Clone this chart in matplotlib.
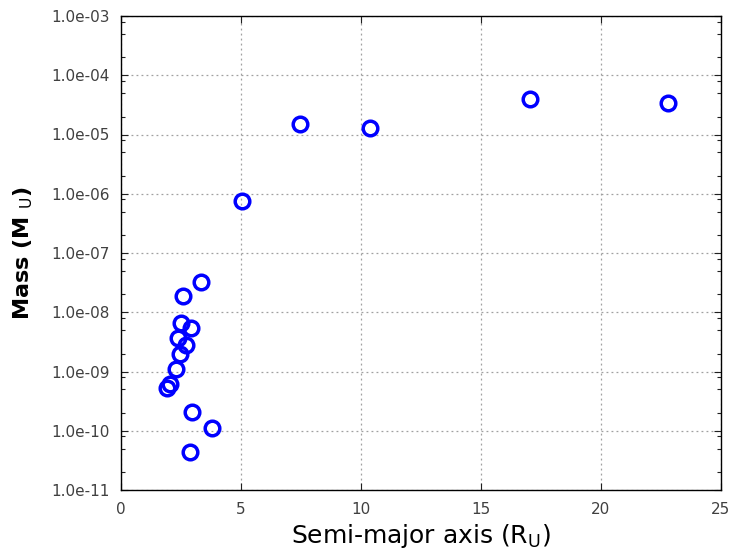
import numpy as np
import matplotlib
matplotlib.use('Agg')
import matplotlib.pyplot as plt
from matplotlib.ticker import LogLocator, NullFormatter

# Uranian moons: semi-major axis in Uranus radii, mass in Uranus masses
moons = ['Cordelia', 'Ophelia', 'Bianca', 'Cressida', 'Desdemona', 'Juliet',
         'Portia', 'Rosalind', 'Cupid', 'Belinda', 'Perdita', 'Puck', 'Mab',
         'Miranda', 'Ariel', 'Umbriel', 'Titania', 'Oberon']
semi_major_axis = [1.92, 2.06, 2.31, 2.38, 2.45, 2.49,
                   2.58, 2.72, 2.89, 2.93, 2.97, 3.33, 3.81,
                   5.03, 7.47, 10.39, 17.04, 22.81]
mass = [5.2e-10, 6.1e-10, 1.09e-9, 3.73e-9, 1.98e-9, 6.7e-9,
        1.88e-8, 2.81e-9, 4.3e-11, 5.44e-9, 2.04e-10, 3.24e-8, 1.1e-10,
        7.5e-7, 1.53e-5, 1.31e-5, 3.94e-5, 3.41e-5]

x_ticks = [0, 5, 10, 15, 20, 25]
y_ticks = [1e-11, 1e-10, 1e-9, 1e-8, 1e-7, 1e-6, 1e-5, 1e-4, 1e-3]

fig = plt.figure(figsize=(7.32, 5.54), dpi=100)
ax = fig.add_axes([121 / 732, 64 / 554, 600 / 732, 474 / 554])

ax.plot(semi_major_axis, mass, linestyle='none', marker='o', markersize=10.5,
        markerfacecolor='none', markeredgecolor='#0000ff', markeredgewidth=2.5)

ax.set_yscale('log')
ax.set_xlim(0, 25)
ax.set_ylim(1e-11, 1e-3)
ax.set_xticks(x_ticks)
ax.set_yticks(y_ticks)
ax.set_yticklabels(['%.1e' % v for v in y_ticks])
ax.yaxis.set_minor_locator(LogLocator(base=10, subs=(2.0, 5.0, 8.0), numticks=20))
ax.yaxis.set_minor_formatter(NullFormatter())

ax.grid(True, which='major', color='#a0a0a0', linestyle=(0, (1.5, 2.5)), linewidth=0.9)
ax.tick_params(which='both', direction='in', top=True, right=True,
               labelsize=11, labelcolor='#404040', color='#202020')
ax.tick_params(which='major', length=5, width=0.8)
ax.tick_params(which='minor', length=3, width=0.8)
ax.tick_params(axis='y', pad=8)
ax.tick_params(axis='x', pad=9)
for s in ax.spines.values():
    s.set_linewidth(1.0)
    s.set_color('black')

ax.set_xlabel(r'Semi-major axis (R$_\mathrm{U}$)', fontsize=18, labelpad=3)
ax.set_ylabel(r'Mass (M $_\mathrm{U}$)', fontsize=16, fontweight='bold', labelpad=12)

fig.savefig('out.png', dpi=100)
